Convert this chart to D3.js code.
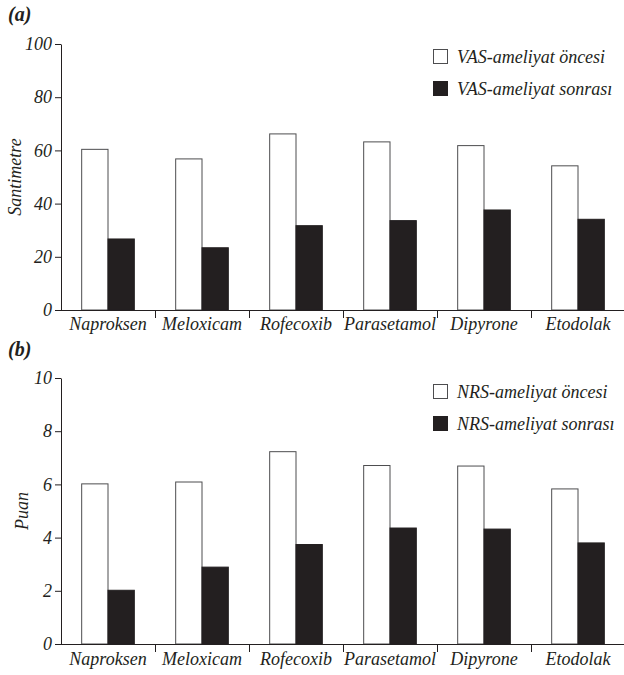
<!DOCTYPE html>
<html>
<head>
<meta charset="utf-8">
<script src="https://cdn.jsdelivr.net/npm/d3@7"></script>
</head>
<body style="margin:0; background:#fff">
<svg id="chart" width="624" height="675"></svg>
<script>
var categories = ["Naproksen", "Meloxicam", "Rofecoxib", "Parasetamol", "Dipyrone", "Etodolak"];

var vasOncesi = [60.4, 56.8, 66.2, 63.2, 61.8, 54.2];
var vasSonrasi = [26.7, 23.4, 31.7, 33.6, 37.6, 34.1];
var vasTicks = [0, 20, 40, 60, 80, 100];

var nrsOncesi = [6.02, 6.09, 7.23, 6.71, 6.69, 5.83];
var nrsSonrasi = [2.02, 2.89, 3.74, 4.36, 4.32, 3.80];
var nrsTicks = [0, 2, 4, 6, 8, 10];

var dark = "#231f20";
var font = "Liberation Serif";

function style_text(sel, size) {
    sel.attr("font-family", null)
        .style("font-family", font)
        .style("font-style", "italic")
        .style("font-size", size + "px")
        .attr("fill", dark);
}

function draw_panel(svg, opt) {
    var keys = ["pre", "post"];
    var data = categories.map(function (c, i) {
        return {cat: c, pre: opt.pre[i], post: opt.post[i]};
    });

    var x0 = d3.scaleBand().domain(categories).range([61, 625]).padding(0);
    var bw = x0.bandwidth();
    var x1 = d3.scaleBand().domain(keys).range([bw * 0.22, bw * 0.78]).padding(0);
    var y = d3.scaleLinear().domain([0, opt.ticks[opt.ticks.length - 1]]).range([opt.y0, opt.y1]);

    var g = svg.append("g");

    // bars
    g.append("g")
        .selectAll("g")
        .data(data)
        .enter().append("g")
        .attr("transform", function (d) { return "translate(" + x0(d.cat) + ",0)"; })
        .selectAll("rect")
        .data(function (d) {
            return keys.map(function (k) { return {key: k, value: d[k]}; });
        })
        .enter().append("rect")
        .attr("x", function (d) { return x1(d.key); })
        .attr("y", function (d) { return y(d.value); })
        .attr("width", x1.bandwidth())
        .attr("height", function (d) { return opt.y0 - y(d.value); })
        .attr("fill", function (d) { return d.key == "pre" ? "#fff" : dark; })
        .attr("stroke", function (d) { return d.key == "pre" ? "#4d4d4f" : dark; })
        .attr("stroke-width", 1);

    // y axis
    var ya = g.append("g")
        .attr("transform", "translate(61,0)")
        .call(d3.axisLeft(y).tickValues(opt.ticks).tickSizeOuter(0).tickSizeInner(6).tickPadding(3));
    ya.attr("font-family", null);
    ya.selectAll("path, line").attr("stroke", dark);
    style_text(ya.selectAll("text"), 18);

    // x axis line + labels
    var xa = g.append("g")
        .attr("transform", "translate(0," + opt.y0 + ")")
        .call(d3.axisBottom(x0).tickSize(0).tickPadding(opt.labPad));
    xa.attr("font-family", null);
    xa.select(".domain").attr("stroke", dark).attr("d", "M61,0.5H624");
    style_text(xa.selectAll("text"), 18);

    // category dividers
    xa.selectAll(".divider")
        .data(categories.slice(1))
        .enter().append("line")
        .attr("class", "divider")
        .attr("x1", function (d) { return x0(d) + 0.5; })
        .attr("x2", function (d) { return x0(d) + 0.5; })
        .attr("y1", 0)
        .attr("y2", 8)
        .attr("stroke", dark);

    // y label
    g.append("text")
        .attr("transform", "translate(" + opt.ylabX + "," + ((opt.y0 + opt.y1) / 2) + ") rotate(-90)")
        .attr("text-anchor", "middle")
        .text(opt.ylabel)
        .call(style_text, 18);

    // panel letter
    g.append("text")
        .attr("x", 8)
        .attr("y", opt.letterY)
        .text(opt.letter)
        .call(style_text, 20)
        .style("font-weight", "bold");

    // legend
    var legend = g.append("g")
        .selectAll("g")
        .data(opt.legend)
        .enter().append("g")
        .attr("transform", function (d, i) {
            return "translate(433," + (opt.legY + i * 32) + ")";
        });

    legend.append("rect")
        .attr("x", 0.5)
        .attr("y", 0.5)
        .attr("width", 14)
        .attr("height", 14)
        .attr("fill", function (d, i) { return i == 0 ? "#fff" : dark; })
        .attr("stroke", function (d, i) { return i == 0 ? "#4d4d4f" : dark; });

    legend.append("text")
        .attr("x", 24)
        .attr("y", 13.5)
        .text(function (d) { return d; })
        .call(style_text, 18);
}

var svg = d3.select("#chart");

draw_panel(svg, {
    pre: vasOncesi, post: vasSonrasi, ticks: vasTicks,
    y0: 310, y1: 44, labPad: 7,
    ylabel: "Santimetre", ylabX: 21,
    letter: "(a)", letterY: 21,
    legend: ["VAS-ameliyat öncesi", "VAS-ameliyat sonrası"], legY: 49
});

draw_panel(svg, {
    pre: nrsOncesi, post: nrsSonrasi, ticks: nrsTicks,
    y0: 644, y1: 378, labPad: 8,
    ylabel: "Puan", ylabX: 28,
    letter: "(b)", letterY: 356,
    legend: ["NRS-ameliyat öncesi", "NRS-ameliyat sonrası"], legY: 384
});
</script>
</body>
</html>
